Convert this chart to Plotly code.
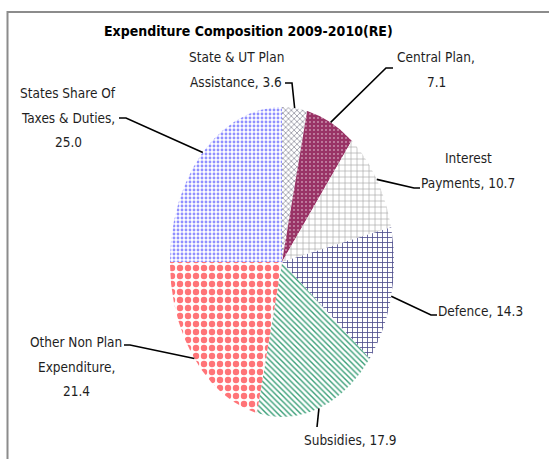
import numpy as np
import plotly.graph_objects as go

# ---- data -------------------------------------------------------------
categories = [
    "State & UT Plan Assistance",
    "Central Plan",
    "Interest Payments",
    "Defence",
    "Subsidies",
    "Other Non Plan Expenditure",
    "States Share Of Taxes & Duties",
]
values = [3.6, 7.1, 10.7, 14.3, 17.9, 21.4, 25.0]
title_text = "Expenditure Composition 2009-2010(RE)"

# ---- geometry (pixels) ------------------------------------------------
W, H = 549, 459
CX, CY = 282, 262          # pie centre
RX, RY = 112, 155          # horizontal / vertical radius (oval pie)
LINE_GAP = 24.5            # spacing between label lines

FONT = "DejaVu Sans Condensed, Liberation Sans Narrow, Arial Narrow, sans-serif"


def to_xy(px, py):
    """Pixel position -> axis units (pie radius == 1 on both axes)."""
    return (px - CX) / RX, (CY - py) / RY


# slice fill patterns
styles = {
    "State & UT Plan Assistance": dict(shape="x", fgcolor="#7a7a8a", bgcolor="#ffffff", size=4, solidity=0.3),
    "Central Plan": dict(shape=".", fgcolor="#ffffff", bgcolor="#993366", size=4, solidity=0.08),
    "Interest Payments": dict(shape="+", fgcolor="#a3a3a3", bgcolor="#ffffff", size=6, solidity=0.2),
    "Defence": dict(shape="+", fgcolor="#4c4c8c", bgcolor="#ffffff", size=5, solidity=0.3),
    "Subsidies": dict(shape="\\", fgcolor="#3a9f78", bgcolor="#ffffff", size=4, solidity=0.35),
    "Other Non Plan Expenditure": dict(shape=".", fgcolor="#ff7478", bgcolor="#ffffff", size=8, solidity=0.5),
    "States Share Of Taxes & Duties": dict(shape=".", fgcolor="#9090ff", bgcolor="#ffffff", size=4, solidity=0.4),
}

# label placement: words per line, text centre x, first line y, leader elbow, stub end
label_layout = {
    "State & UT Plan Assistance": dict(lines=[4, 2], cx=236, y0=57, elbow=(292, 83), stub=(285, 83)),
    "Central Plan": dict(lines=[2, 1], cx=436, y0=57, elbow=(386, 68), stub=(393, 68)),
    "Interest Payments": dict(lines=[1, 2], cx=468, y0=158, elbow=(414, 188), stub=(420, 188)),
    "Defence": dict(lines=[2], cx=480, y0=311, elbow=(431, 315), stub=(437, 315)),
    "Subsidies": dict(lines=[2], cx=350, y0=440, elbow=(317, 427), stub=(317, 427)),
    "Other Non Plan Expenditure": dict(lines=[3, 1, 1], cx=76, y0=342, elbow=(130, 345), stub=(124, 345)),
    "States Share Of Taxes & Duties": dict(lines=[3, 3, 1], cx=68, y0=93, elbow=(126, 118), stub=(119, 118)),
}

fig = go.Figure()

total = float(sum(values))
start = 0.0
annotations = []
for name, val in zip(categories, values):
    end = start + val
    t = np.linspace(2 * np.pi * start / total, 2 * np.pi * end / total, 120)
    xs = np.concatenate([[0.0], np.sin(t), [0.0]])
    ys = np.concatenate([[0.0], np.cos(t), [0.0]])
    fig.add_trace(go.Scatter(
        x=xs, y=ys, mode="lines", fill="toself",
        line=dict(width=0, color="rgba(0,0,0,0)"),
        fillcolor=styles[name]["bgcolor"],
        fillpattern=dict(fillmode="replace", **styles[name]),
        name=name, hoverinfo="name", showlegend=False,
    ))

    # leader line from the slice edge (mid angle) to the label
    mid = np.pi * (start + end) / total
    lay = label_layout[name]
    ex, ey = np.sin(mid), np.cos(mid)
    bx, by = to_xy(*lay["elbow"])
    sx, sy = to_xy(*lay["stub"])
    fig.add_trace(go.Scatter(
        x=[ex, bx, sx], y=[ey, by, sy], mode="lines",
        line=dict(color="#000000", width=1.6),
        hoverinfo="skip", showlegend=False,
    ))

    # label text, split over lines
    words = f"{name}, {val:.1f}".split(" ")
    pos = 0
    for i, n in enumerate(lay["lines"]):
        line_txt = " ".join(words[pos:pos + n])
        pos += n
        lx, ly = to_xy(lay["cx"], lay["y0"] + i * LINE_GAP)
        annotations.append(dict(
            x=lx, y=ly, xref="x", yref="y", text=line_txt, showarrow=False,
            xanchor="center", yanchor="middle",
            font=dict(family=FONT, size=13.5, color="#1e1e1e"),
        ))
    start = end

# chart title
tx, ty = to_xy(248, 31)
annotations.append(dict(
    x=tx, y=ty, xref="x", yref="y", text=f"<b>{title_text}</b>", showarrow=False,
    xanchor="center", yanchor="middle",
    font=dict(family=FONT, size=14, color="#000000"),
))

fig.update_layout(
    width=W, height=H, autosize=False,
    margin=dict(l=0, r=0, t=0, b=0),
    paper_bgcolor="#ffffff", plot_bgcolor="#ffffff",
    xaxis=dict(range=[-CX / RX, (W - CX) / RX], visible=False, fixedrange=True),
    yaxis=dict(range=[-(H - CY) / RY, CY / RY], visible=False, fixedrange=True),
    annotations=annotations,
    shapes=[dict(
        type="rect", xref="paper", yref="paper",
        x0=7.5 / W, x1=(W + 20) / W, y0=-20 / H, y1=1 - 12 / H,
        line=dict(color="#8c8c8c", width=2), fillcolor="rgba(0,0,0,0)", layer="above",
    )],
)

fig.write_html("out.html")
